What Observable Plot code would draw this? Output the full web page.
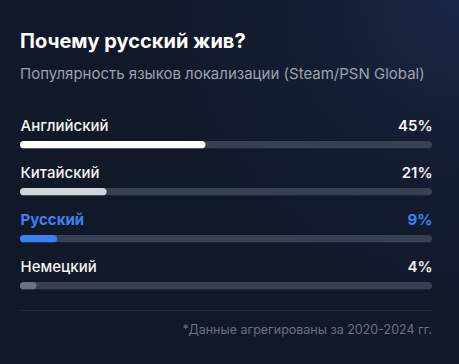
<!DOCTYPE html>
<html><head><meta charset="utf-8">
<script src="https://cdn.jsdelivr.net/npm/d3@7"></script>
<script src="https://cdn.jsdelivr.net/npm/@observablehq/plot@0.6"></script>
<style>
html,body{margin:0;padding:0;}
body{width:459px;height:364px;overflow:hidden;position:relative;font-family:Inter,"Noto Sans",sans-serif;
background:radial-gradient(circle at 100% 0%, #1a2747 0%, #141d33 25%, #111827 55%);}
#title{position:absolute;left:20px;top:31px;font-size:20px;line-height:20px;font-weight:700;color:#ffffff;white-space:nowrap;}
#subtitle{position:absolute;left:20px;top:66px;font-size:15px;line-height:15px;color:#9ca3af;white-space:nowrap;}
#chart{position:absolute;left:0;top:100px;}
#divider{position:absolute;left:20px;top:310px;width:412px;height:1px;background:#1f2937;}
#footer{position:absolute;right:27px;top:323.5px;font-size:12.5px;line-height:12.5px;color:#6b7280;white-space:nowrap;}
</style></head>
<body>
<div id="title">Почему русский жив?</div>
<div id="subtitle">Популярность языков локализации (Steam/PSN Global)</div>
<div id="chart"></div>
<div id="divider"></div>
<div id="footer">*Данные агрегированы за 2020-2024 гг.</div>
<script>
const languages = ["Английский", "Китайский", "Русский", "Немецкий"];
const shares = [45, 21, 9, 4];
const highlight = "Русский";

const barColor = {"Английский": "#ffffff", "Китайский": "#d1d5db", "Русский": "#3b82f6", "Немецкий": "#6b7280"};
const rows = languages.map((lang, i) => ({lang, share: shares[i]}));
const normal = rows.filter(d => d.lang !== highlight);
const hi = rows.filter(d => d.lang === highlight);

const barInset = {insetTop: 40, insetBottom: -0.33, rx: 4};
const chart = Plot.plot({
  width: 459, height: 200,
  marginLeft: 20, marginRight: 27, marginTop: 0, marginBottom: 0,
  x: {domain: [0, 100], axis: null},
  y: {type: "band", domain: languages, range: [0, 190.67], padding: 0, axis: null},
  color: {type: "identity"},
  style: {background: "transparent", fontFamily: "Inter, 'Noto Sans', sans-serif", overflow: "visible"},
  marks: [
    Plot.barX(rows, {x1: 0, x2: 100, y: "lang", fill: "#374151", ...barInset}),
    Plot.barX(rows, {x1: 0, x2: "share", y: "lang", fill: d => barColor[d.lang], ...barInset}),
    Plot.text(normal, {x: 0, y: "lang", text: "lang", textAnchor: "start", dy: 1.4, fill: "#f3f4f6", fontSize: 15, fontWeight: 500}),
    Plot.text(normal, {x: 100, y: "lang", text: d => d.share + "%", textAnchor: "end", dy: 1.4, fill: "#f3f4f6", fontSize: 15, fontWeight: 600}),
    Plot.text(hi, {x: 0, y: "lang", text: "lang", textAnchor: "start", dy: 1.4, fill: "#3b82f6", fontSize: 15, fontWeight: 700}),
    Plot.text(hi, {x: 100, y: "lang", text: d => d.share + "%", textAnchor: "end", dy: 1.4, fill: "#3b82f6", fontSize: 15, fontWeight: 700})
  ]
});
document.getElementById("chart").appendChild(chart);
</script>
</body></html>
